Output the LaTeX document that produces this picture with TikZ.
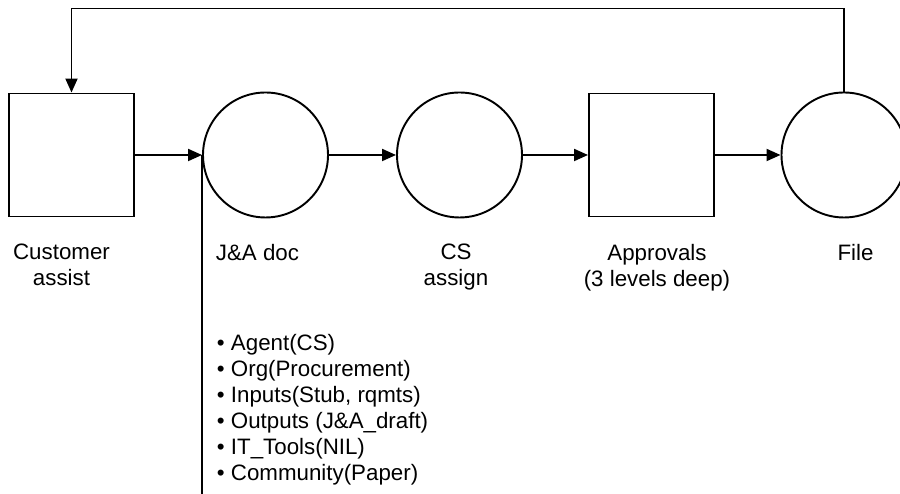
\documentclass[tikz,border=0pt]{standalone}
\usepackage{fontspec}
\setmainfont{Liberation Sans}
\usetikzlibrary{arrows.meta}

\begin{document}
\begin{tikzpicture}[>={Triangle[length=0.28cm,width=0.24cm]}, line width=1.1pt,
  font=\fontsize{12.7}{14.8}\selectfont,
  box/.style={draw, minimum width=2.5cm, minimum height=2.46cm, inner sep=0pt},
  disc/.style={draw, circle, minimum size=2.5cm, inner sep=0pt},
  lbl/.style={anchor=north, align=center, inner sep=0pt},
  listitem/.style={anchor=base west, inner sep=0pt}]
  \clip (0,0) rectangle (18,9.88);
  % steps of the process
  \node[box]  (cust)   at (1.43,6.78) {};
  \node[disc] (jadoc)  at (5.31,6.78) {};
  \node[disc] (csasgn) at (9.19,6.78) {};
  \node[box]  (appr)   at (13.03,6.78) {};
  \node[disc] (file)   at (16.88,6.78) {};
  \draw[->] (cust) -- (jadoc);
  \draw[->] (jadoc) -- (csasgn);
  \draw[->] (csasgn) -- (appr);
  \draw[->] (appr) -- (file);
  % loop back to the start
  \coordinate (top) at (0,9.71);
  \draw[->] (file.north) -- (file.north |- top) -| (cust.north);
  % labels under the steps
  \node[lbl] (lcust)   at (1.23,5.02)  {Customer\\assist};
  \node[lbl] (ljadoc)  at (5.15,5.02)  {J\&A doc};
  \node[lbl] (lcsasgn) at (9.12,5.02)  {CS\\assign};
  \node[lbl] (lappr)   at (13.14,5.02) {Approvals\\(3 levels deep)};
  \node[lbl] (lfile)   at (17.11,5.02) {File};
  % attributes of the J&A step
  \coordinate (bottom) at (0,0);
  \draw (jadoc.west) -- (jadoc.west |- bottom);
  \foreach \txt [count=\i] in {Agent(CS), Org(Procurement), {Inputs(Stub, rqmts)},
      {Outputs (J\&A\_draft)}, IT\_Tools(NIL), Community(Paper)}{
    \node[listitem] (item\i) at (4.32,{2.86-0.52*(\i-1)}) {\textbullet\ \txt};
  }
\end{tikzpicture}
\end{document}
